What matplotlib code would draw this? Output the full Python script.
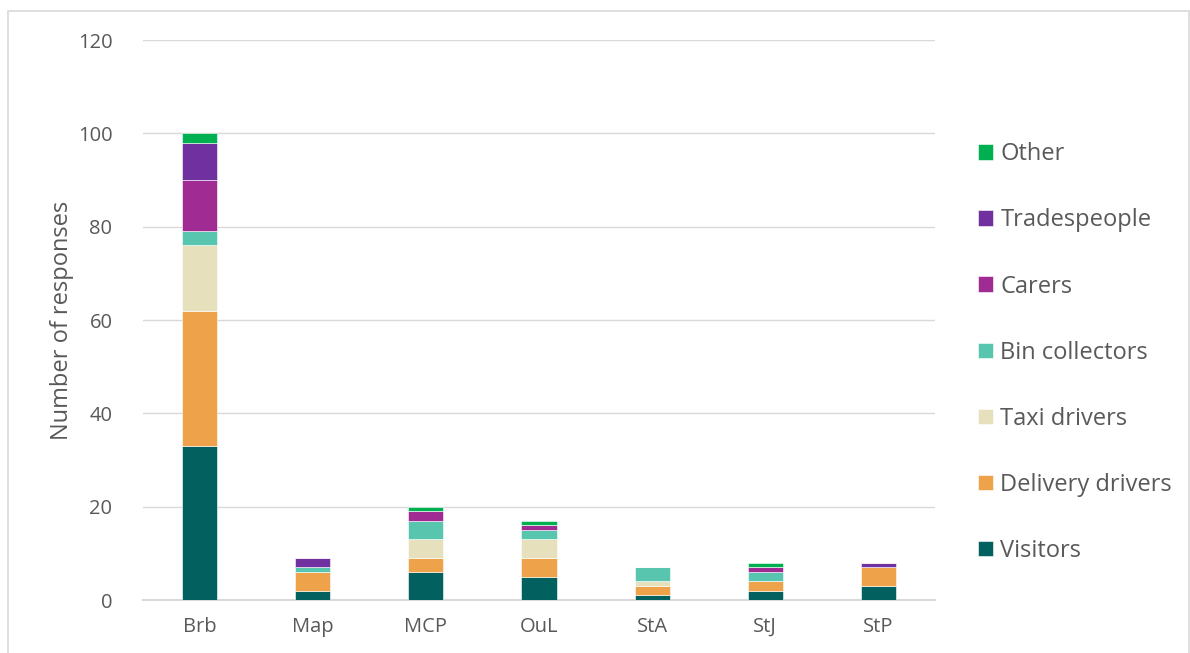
import numpy as np
import matplotlib.pyplot as plt
from matplotlib.patches import Rectangle

plt.rcParams['font.family'] = ['Open Sans', 'DejaVu Sans']

sites = ["Brb", "Map", "MCP", "OuL", "StA", "StJ", "StP"]
groups = ["Visitors", "Delivery drivers", "Taxi drivers", "Bin collectors",
          "Carers", "Tradespeople", "Other"]
visitors = [33, 2, 6, 5, 1, 2, 3]
delivery = [29, 4, 3, 4, 2, 2, 4]
taxi = [14, 0, 4, 4, 1, 0, 0]
bins = [3, 1, 4, 2, 3, 2, 0]
carers = [11, 0, 2, 1, 0, 1, 0]
trades = [8, 2, 0, 0, 0, 0, 1]
other = [2, 0, 1, 1, 0, 1, 0]
series = [visitors, delivery, taxi, bins, carers, trades, other]
colors = ["#02615F", "#EEA34A", "#E6E0BD", "#58C6AE", "#A02B93", "#7030A0", "#00B050"]

fig = plt.figure(figsize=(11.9, 6.53), dpi=100)
ax = fig.add_axes([143 / 1190, 1 - 600 / 653, (935 - 143) / 1190, 560 / 653])

x = np.arange(len(sites))
bottom = np.zeros(len(sites))
for vals, col, name in zip(series, colors, groups):
    ax.bar(x, vals, 0.31, bottom=bottom, color=col, label=name,
           edgecolor="white", linewidth=0.4, zorder=3)
    bottom += np.array(vals)

ax.set_xlim(-0.5, 6.5)
ax.set_ylim(0, 120)
ax.set_yticks(range(0, 121, 20))
ax.set_xticks(x)
ax.set_xticklabels(sites)
ax.grid(axis="y", color="#D9D9D9", linewidth=1, zorder=0)
for s in ["top", "right", "left"]:
    ax.spines[s].set_visible(False)
ax.spines["bottom"].set_color("#D9D9D9")
ax.spines["bottom"].set_linewidth(1.5)
ax.tick_params(length=0, labelsize=14.5, labelcolor="#595959")
ax.tick_params(axis="y", pad=22)
ax.tick_params(axis="x", pad=12)
ax.set_ylabel("Number of responses", fontsize=17, color="#595959", labelpad=3)

handles, labels = ax.get_legend_handles_labels()
leg = ax.legend(handles[::-1], labels[::-1], loc="upper left",
                bbox_to_anchor=(1.028, 0.855), frameon=False, fontsize=17,
                handlelength=0.63, handleheight=0.63, handletextpad=0.3,
                labelspacing=1.78, labelcolor="#595959")

# chart area border
fig.patches.append(Rectangle((8 / 1190, -0.1), 1181 / 1190, 1.1 - 11 / 653,
                             transform=fig.transFigure, fill=False,
                             edgecolor="#D9D9D9", linewidth=1.2))

fig.savefig("out.png", dpi=100)
